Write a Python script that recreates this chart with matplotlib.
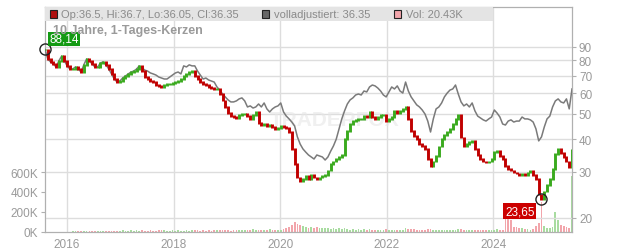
import numpy as np
import pandas as pd
import matplotlib
matplotlib.use("Agg")
from matplotlib import pyplot as plt
from matplotlib.patches import Rectangle
from matplotlib.ticker import FixedLocator, FuncFormatter, NullLocator

plt.rcParams["font.family"] = ["Liberation Sans", "DejaVu Sans"]

# daily-ish closing prices (candles), Aug 2015 .. Jun 2025
close = [
    88.1, 81.0, 78.9, 77.5, 75.5, 79.6, 83.1, 79.6, 76.2, 74.1,
    74.1, 75.5, 74.1, 72.2, 76.9, 81.0, 79.6, 77.5, 75.5, 75.5,
    78.2, 78.9, 76.9, 74.1, 71.0, 67.9, 66.1, 66.7, 68.5, 69.7,
    71.0, 72.2, 72.8, 74.1, 76.2, 72.8, 69.1, 67.9, 66.7, 66.1,
    64.4, 63.8, 63.3, 64.4, 65.0, 65.0, 65.5, 66.1, 66.7, 67.9,
    69.7, 71.0, 72.2, 72.8, 69.7, 67.9, 66.1, 65.0, 64.4, 63.3,
    62.7, 62.2, 62.2, 59.5, 56.2, 53.1, 50.3, 49.0, 48.6, 48.2,
    49.4, 49.9, 49.9, 49.0, 47.8, 49.4, 50.8, 46.1, 45.3, 45.7,
    44.9, 45.3, 44.5, 43.8, 44.1, 44.9, 44.5, 44.1, 42.6, 36.7,
    32.2, 28.6, 27.5, 28.2, 28.9, 28.2, 29.2, 28.6, 28.2, 28.6,
    28.9, 29.2, 30.3, 32.2, 32.9, 33.6, 34.2, 34.8, 40.0, 43.0,
    45.7, 46.9, 47.3, 47.8, 47.8, 49.0, 48.6, 50.8, 48.6, 47.8,
    48.6, 49.4, 49.4, 46.9, 47.8, 48.6, 51.2, 50.3, 51.2, 52.2,
    53.1, 47.8, 43.0, 41.1, 40.0, 38.3, 37.7, 36.7, 33.6, 31.6,
    32.9, 34.5, 37.4, 40.0, 41.5, 42.6, 43.8, 45.7, 47.8, 49.4,
    40.7, 37.7, 38.3, 39.0, 39.6, 36.7, 34.8, 33.6, 32.9, 32.7,
    32.9, 33.6, 35.7, 36.0, 34.5, 33.6, 31.6, 30.8, 30.3, 29.8,
    29.5, 29.2, 29.5, 29.2, 29.8, 30.3, 29.2, 28.2, 24.6, 23.65,
    25.3, 26.7, 28.2, 30.8, 35.1, 36.7, 35.4, 34.2, 32.9, 31.3,
    36.35,
]

# fully adjusted price (grey line), same dates
adjusted = [
    88.1, 81.0, 78.9, 77.5, 75.5, 79.6, 83.1, 79.6, 76.2, 74.1,
    74.1, 75.5, 74.1, 72.2, 76.9, 81.0, 79.6, 77.5, 75.5, 75.5,
    78.2, 78.9, 76.9, 74.1, 71.0, 67.9, 66.1, 66.7, 68.5, 69.7,
    71.0, 72.2, 72.8, 74.1, 76.2, 74.8, 73.4, 72.8, 71.6, 71.0,
    70.3, 69.1, 68.5, 67.9, 67.9, 69.1, 70.3, 71.6, 72.2, 71.0,
    76.2, 75.5, 76.9, 76.2, 76.2, 72.8, 70.3, 67.9, 68.5, 67.3,
    66.7, 66.1, 63.3, 61.6, 59.5, 58.0, 56.5, 55.5, 55.5, 56.0,
    57.0, 57.5, 56.0, 53.1, 53.6, 52.6, 53.1, 54.5, 53.1, 55.0,
    52.2, 50.8, 52.2, 53.1, 53.6, 55.0, 50.8, 49.0, 47.8, 46.5,
    44.9, 40.8, 38.3, 36.7, 35.7, 34.8, 34.2, 33.6, 34.8, 34.5,
    34.2, 33.3, 34.2, 36.0, 37.7, 40.0, 43.8, 47.8, 51.3, 54.5,
    56.5, 57.5, 59.0, 59.5, 59.0, 61.1, 60.6, 63.3, 64.4, 63.9,
    62.7, 61.1, 59.0, 58.0, 60.6, 63.3, 62.2, 63.9, 61.1, 60.0,
    66.1, 61.1, 58.0, 56.0, 54.1, 53.1, 51.7, 49.9, 46.9, 42.6,
    47.8, 52.2, 53.1, 55.0, 58.0, 60.0, 61.6, 62.2, 64.4, 59.5,
    55.5, 53.6, 54.5, 53.1, 55.0, 51.3, 49.0, 48.2, 47.4, 46.9,
    47.8, 48.6, 51.7, 50.3, 48.6, 45.7, 45.3, 46.9, 47.4, 46.5,
    46.9, 46.9, 48.6, 47.8, 47.8, 47.4, 46.5, 43.8, 39.4, 40.8,
    44.5, 47.8, 49.0, 53.1, 56.0, 57.0, 55.5, 55.0, 57.0, 52.2,
    62.2,
]

# volume in thousands
volume_k = [
    12, 3, 2, 2, 2, 2, 2, 2, 3, 3,
    8, 10, 9, 12, 10, 8, 12, 14, 10, 9,
    8, 10, 12, 15, 10, 9, 8, 12, 18, 10,
    14, 20, 12, 18, 10, 25, 14, 12, 20, 15,
    12, 24, 18, 16, 12, 14, 20, 10, 18, 14,
    12, 16, 14, 20, 22, 18, 12, 16, 14, 18,
    14, 16, 20, 18, 22, 16, 25, 14, 18, 20,
    16, 22, 18, 24, 20, 28, 18, 22, 20, 24,
    20, 26, 22, 18, 24, 20, 28, 40, 55, 70,
    100, 85, 75, 60, 55, 45, 50, 40, 48, 42,
    45, 38, 42, 35, 40, 30, 36, 32, 40, 28,
    25, 30, 22, 28, 20, 26, 24, 30, 20, 22,
    24, 20, 18, 26, 22, 20, 25, 18, 22, 20,
    40, 35, 30, 28, 22, 25, 20, 18, 26, 30,
    24, 20, 22, 18, 24, 20, 22, 18, 20, 28,
    30, 22, 20, 18, 22, 20, 18, 24, 20, 22,
    18, 20, 25, 28, 22, 20, 150, 210, 120, 55,
    50, 45, 38, 30, 28, 22, 35, 60, 90, 300,
    60, 45, 40, 55, 200, 120, 70, 60, 50, 45,
    560,
]

year_ticks = ["2016", "2018", "2020", "2022", "2024"]
price_ticks = [20, 30, 40, 50, 60, 70, 80, 90]
volume_ticks = [0, 200, 400, 600]

header_ohlc = "Op:36.5, Hi:36.7, Lo:36.05, Cl:36.35"
header_adj = "volladjustiert: 36.35"
header_vol = "Vol: 20.43K"
title = "10 Jahre, 1-Tages-Kerzen"
high_label = "88,14"
low_label = "23,65"

dates = pd.date_range("2015-08-03", "2025-06-25", periods=len(close))
close_a = np.array(close)
open_a = np.concatenate([[close[0]], close_a[:-1]])
up = close_a >= open_a

RED = "#c00000"
GREEN = "#3aaa1e"
GREY_TXT = "#9a9a9a"

fig = plt.figure(figsize=(6.32, 2.53), dpi=100)
ax = fig.add_axes([45 / 632, 20 / 253, 527 / 632, 225 / 253])
ax2 = ax.twinx()

# volume on the left axis
vol_colors = np.where(up, "#a8dca0", "#f2a5ab")
ax.bar(dates, np.array(volume_k) * 1000, width=12, color=vol_colors, linewidth=0, zorder=2)
ax.set_ylim(0, 2.25e6)
ax.yaxis.set_major_locator(FixedLocator([v * 1000 for v in volume_ticks]))
ax.yaxis.set_major_formatter(FuncFormatter(lambda v, p: f"{int(v / 1000)}K"))

# prices on the right, log scale
ax2.set_yscale("log")
ax2.set_ylim(17.68, 127.9)
ax2.plot(dates, adjusted, color="#7a7a7a", linewidth=1.1, zorder=3)
# candle bodies: open = previous close; flat days drawn as a thin doji
lo = np.minimum(open_a, close_a) / 1.006
hi = np.maximum(open_a, close_a) * 1.006
ax2.vlines(dates[up], lo[up], hi[up], color=GREEN, linewidth=2.1, zorder=4)
ax2.vlines(dates[~up], lo[~up], hi[~up], color=RED, linewidth=2.1, zorder=4)
ax2.yaxis.set_major_locator(FixedLocator(price_ticks))
ax2.yaxis.set_minor_locator(NullLocator())
ax2.yaxis.set_major_formatter(FuncFormatter(lambda v, p: f"{v:g}"))

ax.set_xlim(dates[0], dates[-1])
ax.set_xticks([pd.Timestamp(f"{y}-01-01") for y in year_ticks])
ax.set_xticklabels(year_ticks)

ax.grid(axis="x", color="#dddddd", linewidth=1)
ax2.grid(axis="y", color="#dddddd", linewidth=1)
ax.set_axisbelow(True)
ax2.set_axisbelow(True)

for a in (ax, ax2):
    for s in a.spines.values():
        s.set_color("#b0b0b0")
    a.tick_params(colors="#b0b0b0", labelcolor=GREY_TXT, labelsize=8.5, length=3, pad=2)
ax.tick_params(axis="x", length=0, pad=4)

# extreme markers and labels
ax2.plot([dates[0]], [close[0]], "o", ms=8, mfc="none", mec="#222222", mew=1, zorder=6, clip_on=False)
ax2.plot([dates[179]], [close[179]], "o", ms=8, mfc="none", mec="#222222", mew=1, zorder=6)
ax2.text(0.036, 0.858, high_label, transform=ax2.transAxes, ha="center", va="center",
         fontsize=8.5, color="white", zorder=7,
         bbox=dict(boxstyle="square,pad=0.12", fc="#139a13", ec="none"))
ax2.text(0.901, 0.093, low_label, transform=ax2.transAxes, ha="center", va="center",
         fontsize=8.5, color="white", zorder=7,
         bbox=dict(boxstyle="square,pad=0.15", fc="#cc0000", ec="none"))
ax2.text(0.015, 0.896, title, transform=ax2.transAxes, ha="left", va="center",
         fontsize=9, fontweight="bold", color=GREY_TXT, zorder=8)

# watermark
ax2.text(0.55, 0.5, "TRADERFOX", transform=ax2.transAxes, ha="center", va="center",
         fontsize=15, fontweight="bold", color="#e6e6e6", alpha=0.6, zorder=1)

# header band
ax2.add_patch(Rectangle((0, 0.938), 0.85, 0.062, transform=ax2.transAxes,
                        fc="#e4e4e4", ec="none", zorder=9, clip_on=False))
for xf, col, txt in [(0.009, "#b01010", header_ohlc),
                     (0.412, "#666666", header_adj),
                     (0.663, "#f2a5ab", header_vol)]:
    ax2.add_patch(Rectangle((xf, 0.952), 0.013, 0.033, transform=ax2.transAxes,
                            fc=col, ec="#222222", lw=0.8, zorder=10, clip_on=False))
    ax2.text(xf + 0.022, 0.969, txt, transform=ax2.transAxes, ha="left", va="center",
             fontsize=8, color="#8a8a8a", zorder=10)

fig.savefig("out.png", dpi=100)
